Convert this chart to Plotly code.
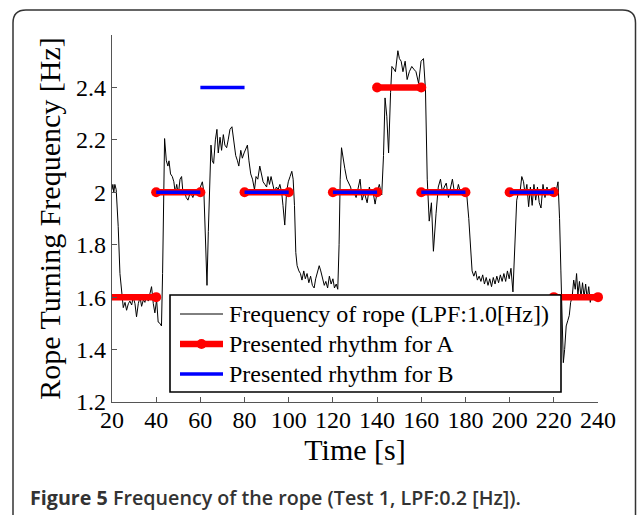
import plotly.graph_objects as go

# ---- data ----
time_s = [20.0, 20.4, 20.8, 21.3, 21.9, 22.8, 23.6, 24.4, 25.1, 25.9, 26.6, 27.4, 28.1, 28.9, 29.6,
          30.4, 31.1, 31.9, 32.7, 33.4, 34.2, 34.9, 35.7, 36.4, 37.2, 37.9, 38.7, 39.4, 40.2, 40.9,
          41.7, 42.4, 42.9, 43.3, 43.8, 44.6, 45.3, 45.8, 46.5, 47.3, 48.0, 48.6, 49.3, 50.0, 50.8,
          51.5, 52.2, 52.9, 53.6, 54.4, 55.1, 55.8, 56.6, 57.4, 58.3, 59.1, 60.0, 60.9, 61.6, 62.3,
          63.0, 63.6, 64.2, 64.8, 65.4, 66.0, 66.8, 67.5, 68.1, 68.9, 69.6, 70.4, 71.1, 71.9, 72.6,
          73.4, 74.3, 75.2, 76.0, 76.8, 77.4, 78.3, 79.0, 79.8, 80.6, 81.3, 82.0, 82.8, 83.6, 84.5,
          85.2, 86.0, 86.9, 87.6, 88.4, 89.2, 90.0, 90.6, 91.3, 92.0, 92.8, 93.6, 94.4, 95.2, 96.0,
          96.8, 97.4, 98.2, 99.0, 99.8, 100.6, 101.4, 102.0, 102.6, 103.2, 103.8, 104.6, 105.3, 106.0,
          106.8, 107.5, 108.3, 109.1, 109.9, 110.7, 111.5, 112.2, 113.0, 113.8, 114.5, 115.3, 116.1,
          116.8, 117.6, 118.4, 119.2, 120.0, 120.7, 121.5, 122.2, 122.8, 123.3, 123.9, 124.7, 125.4,
          126.3, 127.2, 128.0, 128.8, 129.6, 130.5, 131.2, 132.3, 133.2, 134.2, 135.5, 136.5, 137.3,
          138.0, 139.1, 140.0, 141.0, 142.1, 142.9, 143.6, 144.4, 145.2, 146.1, 146.7, 147.6, 148.3,
          149.4, 150.1, 150.9, 151.7, 152.7, 153.6, 154.6, 155.7, 156.6, 157.6, 158.8, 159.9, 161.0,
          161.9, 162.7, 163.6, 164.6, 165.5, 166.7, 167.7, 168.7, 169.6, 170.4, 171.3, 172.3, 173.2,
          174.1, 175.0, 175.9, 176.8, 177.7, 178.6, 179.6, 180.6, 181.5, 182.2, 183.0, 183.8, 184.6,
          185.4, 186.2, 187.0, 187.8, 188.6, 189.4, 190.2, 191.0, 191.8, 192.6, 193.4, 194.2, 195.0,
          195.8, 196.6, 197.4, 198.2, 199.0, 199.8, 200.6, 201.5, 202.4, 203.2, 204.0, 204.7, 205.5,
          206.3, 207.0, 207.8, 208.6, 209.4, 210.2, 211.0, 211.8, 212.6, 213.4, 214.2, 215.1, 216.0,
          216.9, 217.8, 218.6, 219.5, 220.3, 221.2, 221.9, 222.6, 223.2, 223.8, 224.3, 224.9, 225.6,
          226.3, 227.0, 227.6, 228.3, 229.0, 229.7, 230.3, 230.9, 231.6, 232.3, 233.0, 233.7, 234.4,
          235.1, 235.8, 236.5, 237.2, 238.0]

freq_hz = [2.01, 2.03, 2.00, 2.03, 2.01, 1.87, 1.69, 1.615, 1.56, 1.58, 1.55, 1.575, 1.585, 1.57, 1.60,
           1.575, 1.525, 1.575, 1.60, 1.565, 1.59, 1.58, 1.61, 1.585, 1.61, 1.64, 1.575, 1.54, 1.59, 1.505,
           1.50, 1.49, 1.69, 1.96, 2.205, 2.12, 2.10, 2.12, 2.07, 2.06, 2.04, 2.00, 2.03, 1.99, 2.05,
           2.06, 1.99, 2.00, 1.98, 1.97, 1.99, 1.995, 1.98, 2.00, 1.99, 2.00, 2.02, 2.04, 2.00, 1.80,
           1.645, 1.85, 2.05, 2.18, 2.12, 2.11, 2.20, 2.24, 2.15, 2.21, 2.16, 2.22, 2.18, 2.17, 2.20,
           2.24, 2.25, 2.19, 2.14, 2.12, 2.10, 2.16, 2.13, 2.15, 2.17, 2.18, 2.12, 2.07, 2.05, 2.01,
           2.06, 2.05, 2.10, 2.07, 2.04, 2.03, 2.02, 2.06, 2.03, 2.06, 2.03, 2.00, 2.02, 2.01, 2.03,
           2.00, 1.95, 1.875, 2.00, 2.04, 2.06, 2.08, 2.05, 1.95, 1.77, 1.72, 1.70, 1.69, 1.665,
           1.70, 1.67, 1.69, 1.655, 1.68, 1.645, 1.635, 1.67, 1.70, 1.72, 1.70, 1.675, 1.645,
           1.66, 1.635, 1.68, 1.65, 1.67, 1.635, 1.65, 1.63, 1.80, 2.05, 2.17, 2.12, 2.09,
           2.05, 2.03, 2.02, 1.99, 2.00, 1.98, 2.01, 2.05, 1.97, 2.00, 1.96, 2.02, 1.99,
           2.01, 1.955, 2.00, 2.03, 1.99, 2.14, 2.36, 2.29, 2.15, 2.38, 2.48, 2.47, 2.46,
           2.54, 2.51, 2.50, 2.46, 2.50, 2.43, 2.46, 2.48, 2.47, 2.46, 2.415, 2.50, 2.51,
           2.39, 2.05, 1.89, 1.96, 1.775, 1.92, 2.02, 2.05, 2.00, 2.02, 2.035, 1.98, 2.02,
           2.05, 2.00, 1.99, 2.03, 2.00, 2.01, 2.00, 1.99, 1.90, 1.78, 1.70, 1.68, 1.70,
           1.665, 1.68, 1.66, 1.685, 1.65, 1.675, 1.645, 1.67, 1.64, 1.675, 1.65, 1.68, 1.655,
           1.685, 1.66, 1.69, 1.66, 1.70, 1.67, 1.71, 1.62, 1.80, 1.97, 2.00, 2.00, 2.06,
           2.04, 1.99, 2.03, 1.945, 2.02, 1.95, 2.03, 1.97, 2.02, 1.96, 1.94, 2.03, 1.98,
           2.02, 1.99, 2.00, 2.00, 2.02, 2.01, 2.04, 1.90, 1.70, 1.45, 1.35, 1.40, 1.49,
           1.51, 1.53, 1.58, 1.60, 1.665, 1.63, 1.69, 1.61, 1.66, 1.60, 1.655, 1.60, 1.65,
           1.595, 1.64, 1.58, 1.61, 1.59]

segA_start = [20, 40, 80, 120, 140, 160, 200, 220]
segA_end = [40, 60, 100, 140, 160, 180, 220, 240]
segA_freq = [1.6, 2.0, 2.0, 2.0, 2.4, 2.0, 2.0, 1.6]

segB_start = [40, 60, 80, 120, 160, 200]
segB_end = [60, 80, 100, 140, 180, 220]
segB_freq = [2.0, 2.4, 2.0, 2.0, 2.0, 2.0]

x_ticks = [20, 40, 60, 80, 100, 120, 140, 160, 180, 200, 220, 240]
y_ticks = [1.2, 1.4, 1.6, 1.8, 2.0, 2.2, 2.4]
y_tick_labels = ["1.2", "1.4", "1.6", "1.8", "2", "2.2", "2.4"]

legend_labels = ["Frequency of rope (LPF:1.0[Hz])", "Presented rhythm for A", "Presented rhythm for B"]

BLACK, RED, BLUE = "black", "#ff0000", "#0000ff"
X_MIN, X_MAX = 20, 240


def segments(starts, ends, vals):
    xs, ys = [], []
    for s, e, v in zip(starts, ends, vals):
        xs += [s, e, None]
        ys += [v, v, None]
    return xs, ys


ax_, ay_ = segments(segA_start, segA_end, segA_freq)
bx_, by_ = segments(segB_start, segB_end, segB_freq)
# the marker sitting on the left axis edge is hidden in the original
a_marker_size = [0 if xv == X_MIN else 10 for xv in ax_]

SERIF = "Liberation Serif, Times New Roman, serif"

fig = go.Figure()
fig.add_trace(go.Scatter(x=time_s, y=freq_hz, mode="lines",
                         line=dict(color=BLACK, width=1),
                         name=legend_labels[0], showlegend=False))
fig.add_trace(go.Scatter(x=ax_, y=ay_, mode="lines+markers",
                         line=dict(color=RED, width=6.5),
                         marker=dict(color=RED, size=a_marker_size, symbol="circle",
                                     opacity=1, line=dict(width=0)),
                         cliponaxis=False,
                         name=legend_labels[1], showlegend=False))
fig.add_trace(go.Scatter(x=bx_, y=by_, mode="lines",
                         line=dict(color=BLUE, width=3.5),
                         name=legend_labels[2], showlegend=False))

W, H = 637, 515
ML, MR, MT, MB = 112, 39, 35, 113
PW, PH = W - ML - MR, H - MT - MB


def px(x):
    return (x - ML) / PW


def py(y):
    return (H - MB - y) / PH


# rounded frame around the figure (open at bottom)
l, r, t, b = px(13), px(635.5), py(10), py(530)
rx, ry = 13 / PW, 13 / PH
frame_path = (f"M{l},{b} L{l},{t - ry} Q{l},{t} {l + rx},{t} "
              f"L{r - rx},{t} Q{r},{t} {r},{t - ry} L{r},{b}")

shapes = [dict(type="path", xref="paper", yref="paper", path=frame_path,
               line=dict(color="#333333", width=1.5), layer="above")]

# legend box (drawn above the data, like the original)
shapes.append(dict(type="rect", xref="paper", yref="paper",
                   x0=px(170), x1=px(561), y0=py(392), y1=py(295),
                   fillcolor="white", line=dict(color="black", width=1.6), layer="above"))
row_y = [314, 344, 374]
shapes.append(dict(type="line", xref="paper", yref="paper", x0=px(180), x1=px(223),
                   y0=py(row_y[0]), y1=py(row_y[0]), line=dict(color=BLACK, width=1), layer="above"))
shapes.append(dict(type="line", xref="paper", yref="paper", x0=px(180), x1=px(223),
                   y0=py(row_y[1]), y1=py(row_y[1]), line=dict(color=RED, width=6.5), layer="above"))
shapes.append(dict(type="circle", xref="paper", yref="paper", x0=px(196.5), x1=px(206.5),
                   y0=py(row_y[1] + 5), y1=py(row_y[1] - 5), fillcolor=RED,
                   line=dict(color=RED, width=0), layer="above"))
shapes.append(dict(type="line", xref="paper", yref="paper", x0=px(180), x1=px(223),
                   y0=py(row_y[2]), y1=py(row_y[2]), line=dict(color=BLUE, width=3.5), layer="above"))

annotations = [dict(xref="paper", yref="paper", x=px(227), y=py(yy), xanchor="left",
                    yanchor="middle", showarrow=False, text=lab,
                    font=dict(family=SERIF, size=24, color="black"))
               for lab, yy in zip(legend_labels, row_y)]

annotations.append(dict(xref="paper", yref="paper", x=px(28), y=py(497),
                        xanchor="left", yanchor="middle", showarrow=False,
                        text="<b>Figure 5</b> Frequency of the rope (Test 1, LPF:0.2 [Hz]).",
                        font=dict(family="Open Sans, Noto Sans, sans-serif", size=19.7,
                                  color="#333333", weight=600)))

fig.update_layout(
    width=W, height=H,
    margin=dict(l=ML, r=MR, t=MT, b=MB),
    paper_bgcolor="white", plot_bgcolor="white",
    font=dict(family=SERIF, color="black", size=24),
    showlegend=False,
    xaxis=dict(range=[X_MIN, X_MAX], tickvals=x_ticks, ticks="inside", ticklen=5,
               tickcolor="#555", showline=True, linecolor="#555", linewidth=1.2,
               showgrid=False, zeroline=False, tickfont=dict(size=24, family=SERIF),
               ticklabelstandoff=-4,
               title=dict(text="Time [s]", font=dict(size=30, family=SERIF), standoff=2),
               automargin=False),
    yaxis=dict(range=[1.2, 2.6], tickvals=y_ticks, ticktext=y_tick_labels,
               ticks="inside", ticklen=5, tickcolor="#555", showline=True,
               linecolor="#555", linewidth=1.2, showgrid=False, zeroline=False,
               tickfont=dict(size=24, family=SERIF),
               title=dict(text="Rope Turning Frequency [Hz]", font=dict(size=30, family=SERIF),
                          standoff=6),
               automargin=False),
    shapes=shapes,
    annotations=annotations,
)

fig.write_html("out.html",
               config={"displayModeBar": False, "staticPlot": True},
               post_script="document.body.style.margin='0px';document.body.style.overflow='hidden';")
